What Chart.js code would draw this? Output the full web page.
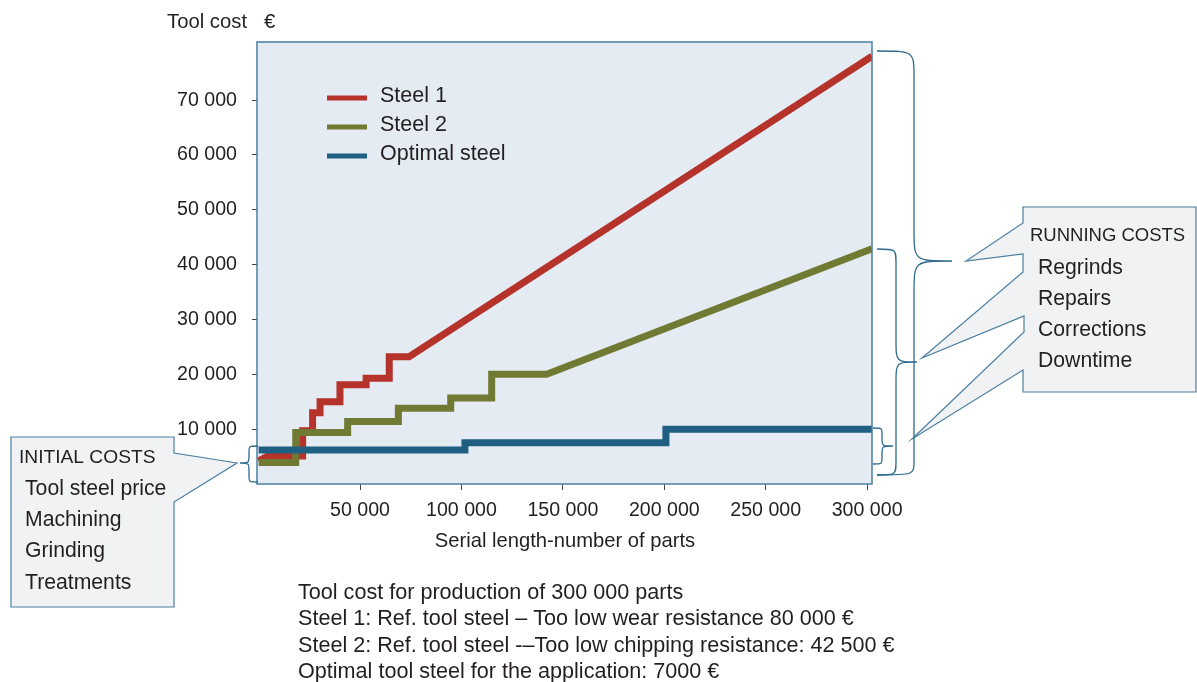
<!DOCTYPE html>
<html>
<head>
<meta charset="utf-8">
<script src="https://cdn.jsdelivr.net/npm/chart.js@4.4.0/dist/chart.umd.min.js"></script>
<style>
  html, body { margin: 0; padding: 0; background: #fff; }
  #wrap { position: relative; width: 1197px; height: 682px; }
</style>
</head>
<body>
<div id="wrap"><canvas id="toolCost" width="1197" height="682"></canvas></div>
<script>
// --- Data ---
const xTicks = [50000, 100000, 150000, 200000, 250000, 300000];
const yTicks = [10000, 20000, 30000, 40000, 50000, 60000, 70000];

const seriesNames = ['Steel 1', 'Steel 2', 'Optimal steel'];
const seriesColors = ['#b5332a', '#707a33', '#1e5f82'];

const steel1X = [0, 4500, 21700, 21700, 26600, 26600, 30300, 30300, 40100, 40100, 53000, 53000, 64400, 64400, 74200, 302400];
const steel1Y = [4200, 5100, 5100, 9700, 9700, 13000, 13000, 15000, 15000, 18100, 18100, 19300, 19300, 23200, 23200, 78000];

const steel2X = [0, 18300, 18300, 43900, 43900, 68900, 68900, 94700, 94700, 114900, 114900, 142000, 302400];
const steel2Y = [3900, 3900, 9400, 9400, 11400, 11400, 13800, 13800, 15700, 15700, 20000, 20000, 42900];

const optimalX = [0, 101700, 101700, 200800, 200800, 302400];
const optimalY = [6200, 6200, 7500, 7500, 10000, 10000];

const initialCosts = ['Tool steel price', 'Machining', 'Grinding', 'Treatments'];
const runningCosts = ['Regrinds', 'Repairs', 'Corrections', 'Downtime'];
const captionLines = [
  'Tool cost for production of 300 000 parts',
  'Steel 1: Ref. tool steel \u2013 Too low wear resistance 80 000 \u20ac',
  'Steel 2: Ref. tool steel -\u2013Too low chipping resistance: 42 500 \u20ac',
  'Optimal tool steel for the application: 7000 \u20ac'
];

// --- Helpers ---
const FONT = "'Liberation Sans', Arial, sans-serif";
const TEXT = '#231f20';
const EDGE = '#2f6a8e';

function fmt(v) {
  return String(v).replace(/\B(?=(\d{3})+(?!\d))/g, ' ');
}

function toPoints(xs, ys) {
  return xs.map(function (x, i) { return { x: x, y: ys[i] }; });
}

// curly brace from (x0,yTop) to (x0,yBot), spine at xs, tip at (xt,ym)
function brace(ctx, x0, yTop, yBot, xs, xt, ym, rTop, rMid, rBot) {
  ctx.beginPath();
  ctx.moveTo(x0, yTop);
  ctx.bezierCurveTo(xs, yTop, xs, yTop, xs, yTop + rTop);
  ctx.lineTo(xs, ym - rMid);
  ctx.bezierCurveTo(xs, ym, xs, ym, xt, ym);
  ctx.bezierCurveTo(xs, ym, xs, ym, xs, ym + rMid);
  ctx.lineTo(xs, yBot - rBot);
  ctx.bezierCurveTo(xs, yBot, xs, yBot, x0, yBot);
  ctx.stroke();
}

function poly(ctx, pts) {
  ctx.beginPath();
  ctx.moveTo(pts[0][0], pts[0][1]);
  for (let i = 1; i < pts.length; i++) ctx.lineTo(pts[i][0], pts[i][1]);
  ctx.closePath();
  ctx.fill();
  ctx.stroke();
}

// --- Plot background + frame ---
const plotFrame = {
  id: 'plotFrame',
  beforeDatasetsDraw: function (chart) {
    const a = chart.chartArea, ctx = chart.ctx;
    ctx.save();
    ctx.fillStyle = '#e4ebf2';
    ctx.fillRect(a.left, a.top, a.right - a.left, a.bottom - a.top);
    ctx.restore();
  },
  afterDatasetsDraw: function (chart) {
    const a = chart.chartArea, ctx = chart.ctx;
    ctx.save();
    ctx.strokeStyle = '#4a7fa1';
    ctx.lineWidth = 1.5;
    ctx.strokeRect(a.left, a.top, a.right - a.left, a.bottom - a.top);
    ctx.restore();
  }
};

// --- Legend, titles, callouts, braces ---
const annotations = {
  id: 'annotations',
  afterDraw: function (chart) {
    const ctx = chart.ctx;
    ctx.save();
    ctx.textBaseline = 'middle';
    ctx.textAlign = 'left';
    ctx.fillStyle = TEXT;

    // legend
    const legY = [98, 127, 156];
    chart.data.datasets.forEach(function (ds, i) {
      ctx.strokeStyle = ds.borderColor;
      ctx.lineWidth = 5;
      ctx.beginPath();
      ctx.moveTo(327, legY[i]);
      ctx.lineTo(367, legY[i]);
      ctx.stroke();
      ctx.fillStyle = TEXT;
      ctx.font = '21.5px ' + FONT;
      ctx.fillText(ds.label, 380, legY[i] - 2);
    });

    // axis titles
    ctx.font = '20.3px ' + FONT;
    ctx.fillText('Tool cost', 167, 22);
    ctx.fillText('\u20ac', 264, 22);
    ctx.textAlign = 'center';
    ctx.font = '20.2px ' + FONT;
    ctx.fillText('Serial length-number of parts', 565, 541);
    ctx.textAlign = 'left';

    // caption
    ctx.font = '21.6px ' + FONT;
    captionLines.forEach(function (t, i) {
      ctx.fillText(t, 298, 593 + i * 26.4);
    });

    // callout boxes
    ctx.fillStyle = '#f0f2f4';
    ctx.strokeStyle = '#4a7fa1';
    ctx.lineWidth = 1.2;
    poly(ctx, [[11, 437], [174, 437], [174, 453], [237, 463], [174, 502], [174, 607], [11, 607]]);
    poly(ctx, [[1196, 207], [1023, 207], [1023, 223], [966, 261], [1023, 254], [1023, 272],
               [922, 358], [1024, 316], [1024, 332], [912, 439], [1023, 370], [1023, 392], [1196, 392]]);

    ctx.fillStyle = TEXT;
    ctx.font = '19.2px ' + FONT;
    ctx.fillText('INITIAL COSTS', 19, 458);
    ctx.font = '18.5px ' + FONT;
    ctx.fillText('RUNNING COSTS', 1030, 236);
    ctx.font = '21.2px ' + FONT;
    initialCosts.forEach(function (t, i) { ctx.fillText(t, 25, 489 + i * 31.3); });
    runningCosts.forEach(function (t, i) { ctx.fillText(t, 1038, 268 + i * 31); });

    // braces
    ctx.strokeStyle = EDGE;
    ctx.lineWidth = 1.3;
    brace(ctx, 877, 51, 475, 914, 952, 261, 26, 32, 14);
    brace(ctx, 877, 249, 475, 896, 917, 362, 14, 22, 14);
    brace(ctx, 873, 428, 464, 882, 893, 446, 6, 8, 6);
    brace(ctx, 258, 446, 482, 249, 240, 463, 6, 8, 6);

    ctx.restore();
  }
};

const tickFont = { family: FONT, size: 19.6 };

// blue drawn on top, then green, then red
const drawOrder = [3, 2, 1];

new Chart(document.getElementById('toolCost'), {
  type: 'line',
  data: {
    datasets: [
      { label: seriesNames[0], data: toPoints(steel1X, steel1Y), borderColor: seriesColors[0] },
      { label: seriesNames[1], data: toPoints(steel2X, steel2Y), borderColor: seriesColors[1] },
      { label: seriesNames[2], data: toPoints(optimalX, optimalY), borderColor: seriesColors[2] }
    ].map(function (ds, i) {
      return Object.assign(ds, {
        order: drawOrder[i],
        borderWidth: 7,
        pointRadius: 0,
        tension: 0,
        borderJoinStyle: 'miter',
        borderCapStyle: 'butt',
        fill: false,
        clip: 0
      });
    })
  },
  options: {
    responsive: false,
    animation: false,
    events: [],
    layout: { padding: { top: 42, right: 325, left: 0, bottom: 0 } },
    plugins: { legend: { display: false }, tooltip: { enabled: false } },
    scales: {
      x: {
        type: 'linear',
        min: -800,
        max: 302400,
        afterBuildTicks: function (s) { s.ticks = xTicks.map(function (v) { return { value: v }; }); },
        afterFit: function (s) { s.height = 198; },
        border: { display: false },
        grid: { drawOnChartArea: false, tickLength: 6, color: '#444', lineWidth: 1 },
        ticks: { font: tickFont, color: TEXT, padding: 9, maxRotation: 0, autoSkip: false,
                 callback: function (v) { return fmt(v); } }
      },
      y: {
        min: 0,
        max: 80600,
        afterBuildTicks: function (s) { s.ticks = yTicks.map(function (v) { return { value: v }; }); },
        afterFit: function (s) { s.width = 257; },
        border: { display: false },
        grid: { drawOnChartArea: false, tickLength: 5, color: '#444', lineWidth: 1 },
        ticks: { font: tickFont, color: TEXT, padding: 15,
                 callback: function (v) { return fmt(v); } }
      }
    }
  },
  plugins: [plotFrame, annotations]
});
</script>
</body>
</html>
